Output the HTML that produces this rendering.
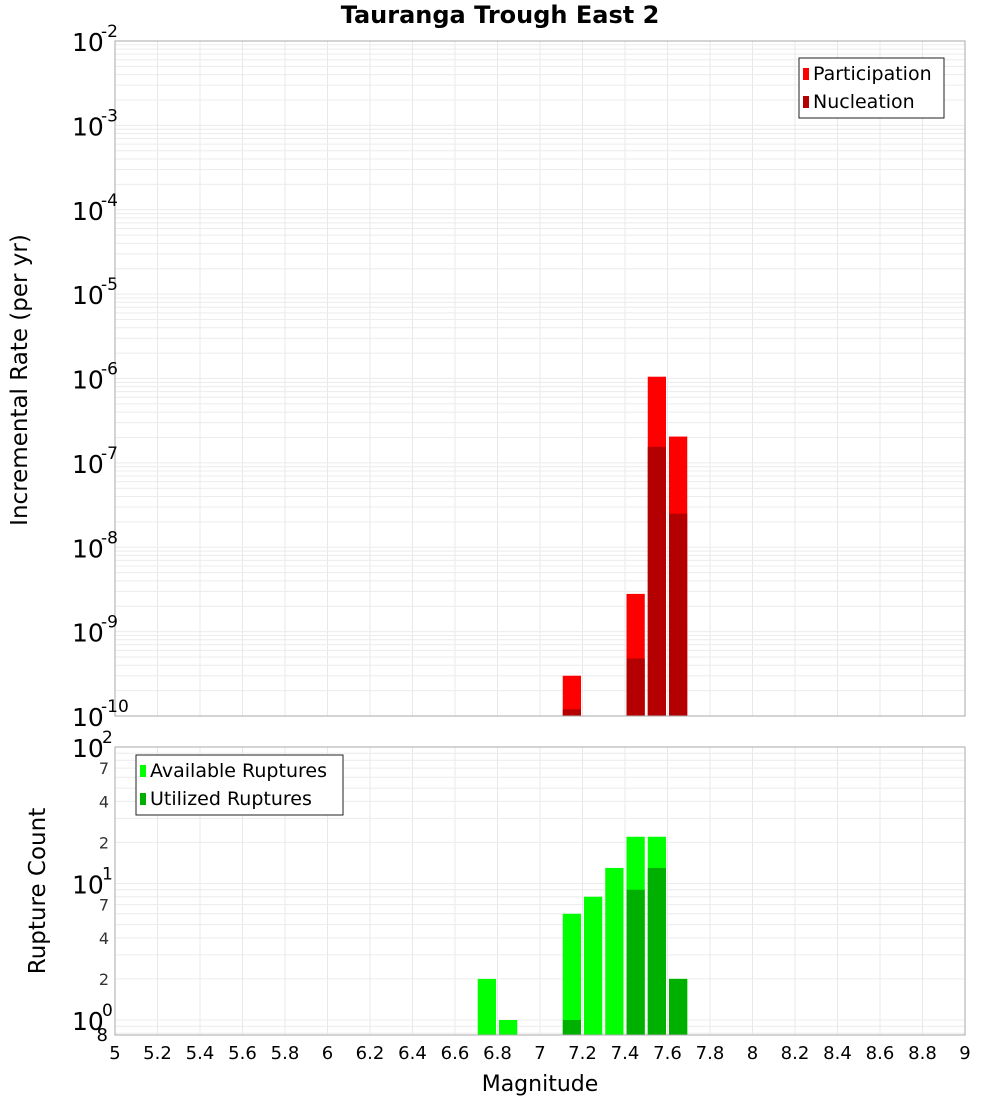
<!DOCTYPE html>
<html><head><meta charset="utf-8"><style>
body{margin:0;background:#fff;font-family:"Liberation Sans","DejaVu Sans",sans-serif}
svg text{font-family:"DejaVu Sans","Liberation Sans",sans-serif}
</style></head><body>
<svg id="c" width="1000" height="1100" xmlns="http://www.w3.org/2000/svg"></svg>
<script>
const binStarts = [6.7, 6.8, 7.1, 7.2, 7.3, 7.4, 7.5, 7.6];
const participation = [null, null, 3e-10, null, null, 2.8e-9, 1.05e-6, 2.05e-7];
const nucleation = [null, null, 1.2e-10, null, null, 4.8e-10, 1.55e-7, 2.5e-8];
const available = [2, 1, 6, 8, 13, 22, 22, 2];
const utilized = [null, null, 1, null, null, 9, 13, 2];
const xTicks = [5,5.2,5.4,5.6,5.8,6,6.2,6.4,6.6,6.8,7,7.2,7.4,7.6,7.8,8,8.2,8.4,8.6,8.8,9];
const topExps = [-10,-9,-8,-7,-6,-5,-4,-3,-2];
const botMinor = [2,4,7];

const NS="http://www.w3.org/2000/svg", svg=document.getElementById('c');
function mk(tag, attrs, parent){const e=document.createElementNS(NS,tag);for(const k in attrs)e.setAttribute(k,attrs[k]);(parent||svg).appendChild(e);return e;}
const X0=115,X1=965, T0=41,T1=716, B0=747,B1=1035;
const xs = m => X0 + (m-5)/4*(X1-X0);
const yTop = v => T0 + (-2 - Math.log10(v))/8*(T1-T0);
const yBot = v => 1020 - Math.log10(v)*136.5;

let g=mk('g',{});


for(let m=5;m<=9.001;m+=0.2){mk('line',{x1:xs(m),x2:xs(m),y1:T0,y2:T1,stroke:'#e8e8e8'},g);mk('line',{x1:xs(m),x2:xs(m),y1:B0,y2:B1,stroke:'#e8e8e8'},g);}
for(let e=-10;e<-2;e++)for(let k=1;k<10;k++){const y=yTop(k*Math.pow(10,e));mk('line',{x1:X0,x2:X1,y1:y,y2:y,stroke:'#ececec'},g);}
for(let e=-1;e<2;e++)for(let k=1;k<10;k++){const y=yBot(k*Math.pow(10,e));if(y>=B0&&y<=B1)mk('line',{x1:X0,x2:X1,y1:y,y2:y,stroke:'#ececec'},g);}

const bw=21.25;
binStarts.forEach((b,i)=>{
  const x=xs(b)+1.5,w=bw-3;
  if(participation[i]!=null){const r=mk('rect',{x:x,y:yTop(participation[i]),width:w,height:T1-yTop(participation[i]),fill:'#ff0000'});
    }
  if(nucleation[i]!=null){const r=mk('rect',{x:x,y:yTop(nucleation[i]),width:w,height:T1-yTop(nucleation[i]),fill:'#b40000'});
    }
  if(available[i]!=null){const r=mk('rect',{x:x,y:yBot(available[i]),width:w,height:B1-yBot(available[i]),fill:'#00ff00'});
    }
  if(utilized[i]!=null){const r=mk('rect',{x:x,y:yBot(utilized[i]),width:w,height:B1-yBot(utilized[i]),fill:'#00b000'});
    }
});
mk('rect',{x:X0,y:T0,width:X1-X0,height:T1-T0,fill:'none',stroke:'#aaa'});
mk('rect',{x:X0,y:B0,width:X1-X0,height:B1-B0,fill:'none',stroke:'#aaa'});

topExps.forEach(e=>{const y=yTop(Math.pow(10,e));
  const t=mk('text',{x:72,y:y+10,'font-size':25});t.textContent='10';
  
  const s=mk('text',{x:101,y:y-4,'font-size':17});s.textContent=String(e);});
[[100,'2'],[10,'1'],[1,'0']].forEach(([v,e])=>{const y=yBot(v);
  const t=mk('text',{x:72,y:y+10,'font-size':25});t.textContent='10';
  
  const s=mk('text',{x:102,y:y-4,'font-size':17});s.textContent=e;});
[1,10].forEach(d=>botMinor.forEach(k=>{const t=mk('text',{x:109,y:yBot(k*d)+6,'font-size':16,'text-anchor':'end',fill:'#333'});t.textContent=k;}));
{const t=mk('text',{x:108,y:1041,'font-size':18,'text-anchor':'end'});t.textContent='8';}
xTicks.forEach(m=>{const t=mk('text',{x:xs(m),y:1059,'font-size':18,'text-anchor':'middle'});t.textContent=String(m);
  });
let t=mk('text',{x:500,y:23,'font-size':24,'font-weight':'bold','text-anchor':'middle'});t.textContent='Tauranga Trough East 2';

t=mk('text',{x:540,y:1091,'font-size':22,'text-anchor':'middle'});t.textContent='Magnitude';

t=mk('text',{x:0,y:0,'font-size':23,'text-anchor':'middle',transform:'translate(27,380) rotate(-90)'});t.textContent='Incremental Rate (per yr)';

t=mk('text',{x:0,y:0,'font-size':23,'text-anchor':'middle',transform:'translate(45,891) rotate(-90)'});t.textContent='Rupture Count';

function legend(x,y,w,items,name){const lg=mk('g',{});
  mk('rect',{x:x,y:y,width:w,height:60,fill:'#fff',stroke:'#222'},lg);
  items.forEach(([c,l],i)=>{mk('rect',{x:x+4,y:y+10+i*28,width:6,height:12,fill:c},lg);const tt=mk('text',{x:x+14,y:y+22+i*28,'font-size':19},lg);tt.textContent=l;});}
legend(799,58,145,[['#ff0000','Participation'],['#b40000','Nucleation']],'top-legend');
legend(136,755,207,[['#00ff00','Available Ruptures'],['#00b000','Utilized Ruptures']],'bottom-legend');
</script>
</body></html>
